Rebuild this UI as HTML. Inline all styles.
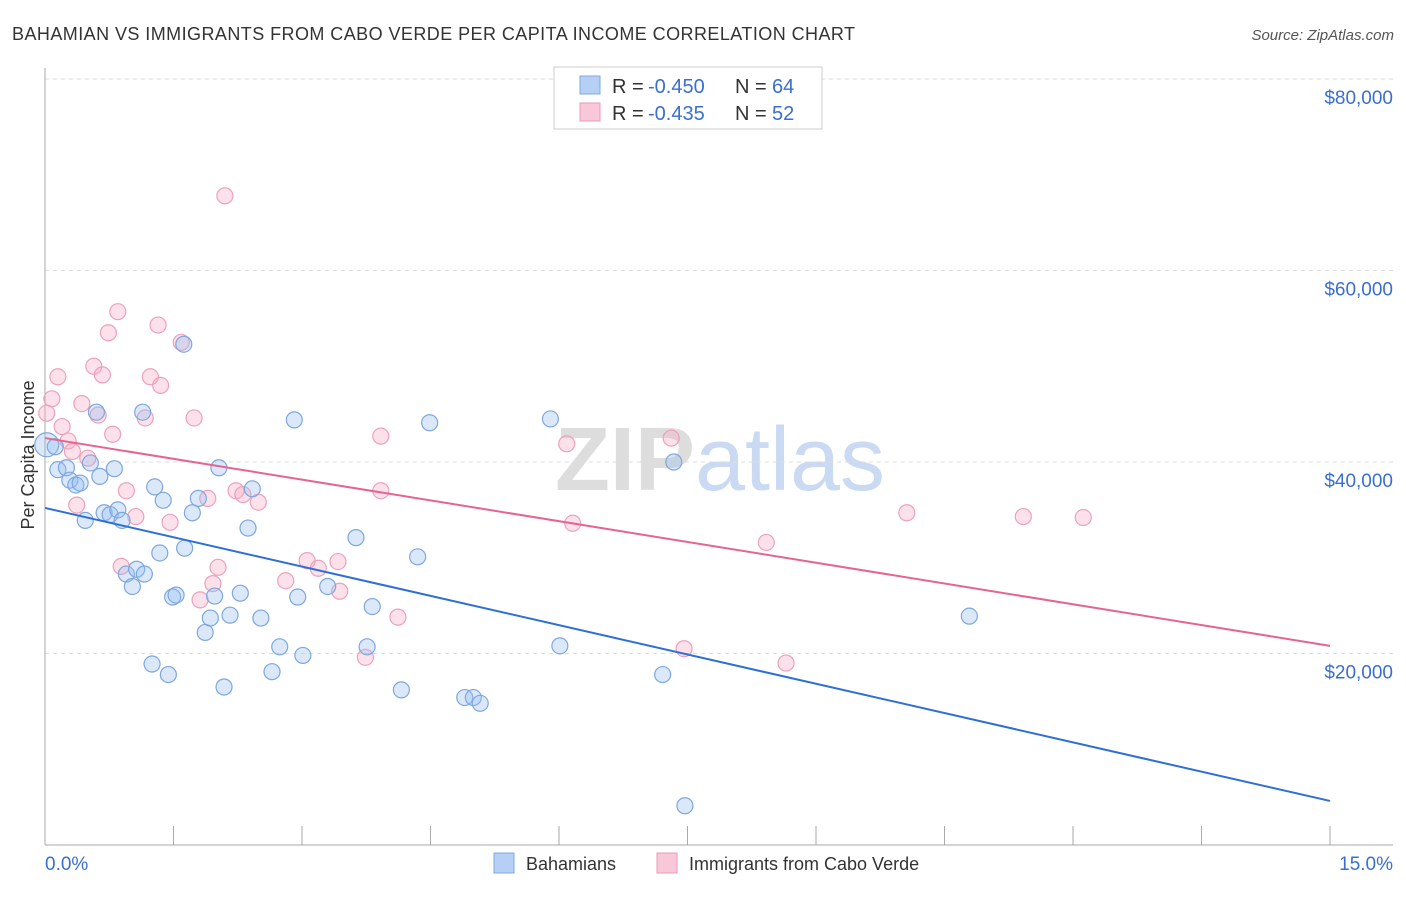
<!DOCTYPE html>
<html><head><meta charset="utf-8"><style>
body{margin:0;background:#fff;font-family:"Liberation Sans",sans-serif;}
svg text{font-family:"Liberation Sans",sans-serif;}
</style></head><body>
<svg id="chart" width="1406" height="892" xmlns="http://www.w3.org/2000/svg">
<text x="12" y="40" font-size="18" fill="#333" textLength="843">BAHAMIAN VS IMMIGRANTS FROM CABO VERDE PER CAPITA INCOME CORRELATION CHART</text>
<text x="1394" y="40" font-size="15" fill="#555" font-style="italic" text-anchor="end">Source: ZipAtlas.com</text>
<text x="720" y="490" font-size="90" fill="#ddd" text-anchor="middle" font-family="Liberation Serif" font-weight="bold">ZIP<tspan fill="#c9daf2" font-family="Liberation Sans" font-weight="normal">atlas</tspan></text>
<text transform="translate(34,455) rotate(-90)" font-size="18" fill="#333" text-anchor="middle">Per Capita Income</text>
<g id="grid"></g>
<g id="axes"></g>
<g id="marks"></g>
<g>
<rect x="554" y="67" width="268" height="62" fill="#fff" stroke="#ccc"/>
<rect x="580" y="76" width="20" height="18" fill="#b6d0f5" stroke="#7fa8e0"/>
<rect x="580" y="103" width="20" height="18" fill="#f9c8d8" stroke="#ec9ab5"/>
<text x="612" y="93" font-size="20" fill="#333">R =</text>
<text x="648" y="93" font-size="20" fill="#3a6fd0">-0.450</text>
<text x="735" y="93" font-size="20" fill="#333">N =</text>
<text x="772" y="93" font-size="20" fill="#3a6fd0">64</text>
<text x="612" y="120" font-size="20" fill="#333">R =</text>
<text x="648" y="120" font-size="20" fill="#3a6fd0">-0.435</text>
<text x="735" y="120" font-size="20" fill="#333">N =</text>
<text x="772" y="120" font-size="20" fill="#3a6fd0">52</text>
</g>
<g>
<rect x="494" y="853" width="20" height="20" fill="#b6d0f5" stroke="#7fa8e0"/>
<text x="526" y="870" font-size="18" fill="#333">Bahamians</text>
<rect x="657" y="853" width="20" height="20" fill="#f9c8d8" stroke="#ec9ab5"/>
<text x="689" y="870" font-size="18" fill="#333">Immigrants from Cabo Verde</text>
</g>
</svg>
<script>
const blueX=[0.02,0.12,0.15,0.25,0.29,0.36,0.41,0.47,0.53,0.60,0.64,0.69,0.76,0.81,0.85,0.90,0.95,1.02,1.07,1.16,1.14,1.25,1.28,1.34,1.38,1.44,1.49,1.53,1.63,1.62,1.72,1.79,1.87,1.93,1.98,2.03,2.09,2.16,2.28,2.37,2.42,2.52,2.65,2.74,2.91,2.95,3.01,3.30,3.63,3.76,3.82,4.16,4.35,4.49,4.90,5.00,5.08,5.90,6.01,7.21,7.34,7.47,10.79];
const blueY=[41.8,41.6,39.2,39.4,38.1,37.6,37.8,33.9,39.9,45.2,38.5,34.7,34.5,39.3,35.0,33.9,28.3,27.0,28.8,28.3,45.2,18.9,37.4,30.5,36.0,17.8,25.9,26.1,31.0,52.3,34.7,36.2,22.2,23.7,26.0,39.4,16.5,24.0,26.3,33.1,37.2,23.7,18.1,20.7,44.4,25.9,19.8,27.0,32.1,20.7,24.9,16.2,30.1,44.1,15.4,15.4,14.8,44.5,20.8,17.8,40.0,4.1,23.9];
const pinkX=[0.02,0.08,0.15,0.20,0.27,0.32,0.37,0.43,0.50,0.57,0.62,0.67,0.74,0.79,0.85,0.89,0.95,1.06,1.17,1.23,1.32,1.35,1.46,1.59,1.74,1.81,1.90,1.96,2.02,2.10,2.23,2.31,2.49,2.81,3.06,3.19,3.42,3.44,3.74,3.92,3.92,4.12,6.09,6.16,7.31,7.46,8.42,8.65,10.06,11.42,12.12];
const pinkY=[45.1,46.6,48.9,43.7,42.2,41.1,35.5,46.1,40.4,50.0,44.9,49.1,53.5,42.9,55.7,29.1,37.0,34.3,44.6,48.9,54.3,48.0,33.7,52.5,44.6,25.6,36.2,27.3,29.0,67.8,37.0,36.6,35.8,27.6,29.7,28.9,29.6,26.5,19.6,42.7,37.0,23.8,41.9,33.6,42.5,20.5,31.6,19.0,34.7,34.3,34.2];
const blueTrend=[35.2,4.6];
const pinkTrend=[42.5,20.8];
const trendX=[0,15];
const yTicks=[20,40,60,80];
const yTickLabels=["$20,000","$40,000","$60,000","$80,000"];
const xTicks=[0,1.5,3,4.5,6,7.5,9,10.5,12,13.5,15];

const NS="http://www.w3.org/2000/svg";
const sx=v=>45+v*(1330-45)/15;
const sy=v=>845-v*191.5/20;
function mk(p,t,a){const e=document.createElementNS(NS,t);for(const k in a)e.setAttribute(k,a[k]);p.appendChild(e);return e;}
const grid=document.getElementById('grid'),axes=document.getElementById('axes'),marks=document.getElementById('marks');
yTicks.forEach((v,i)=>{
 const l=mk(grid,'line',{x1:45,x2:1393,y1:sy(v),y2:sy(v),stroke:'#ddd','stroke-dasharray':'4,4'});
 
 
 const t=mk(axes,'text',{x:1393,y:sy(v)+25,'font-size':19,fill:'#3a6fd0','text-anchor':'end'});
 t.textContent=yTickLabels[i];
 
 
});
mk(grid,'line',{x1:45,x2:1393,y1:79,y2:79,stroke:'#ddd','stroke-dasharray':'4,4'});
mk(axes,'line',{x1:45,x2:45,y1:68,y2:845,stroke:'#aaa'});
mk(axes,'line',{x1:45,x2:1393,y1:845,y2:845,stroke:'#aaa'});
xTicks.forEach(v=>{
 const l=mk(axes,'line',{x1:sx(v),x2:sx(v),y1:826,y2:845,stroke:'#aaa'});
 
 
});
const xl=mk(axes,'text',{x:45,y:870,'font-size':19,fill:'#3a6fd0'});xl.textContent='0.0%';


const xr=mk(axes,'text',{x:1393,y:870,'font-size':19,fill:'#3a6fd0','text-anchor':'end'});xr.textContent='15.0%';


pinkX.forEach((x,i)=>{
 const c=mk(marks,'circle',{cx:sx(x),cy:sy(pinkY[i]),r:8,fill:'rgba(246,170,196,0.35)',stroke:'#eba2bb','stroke-width':1.2});
 
 
});
blueX.forEach((x,i)=>{
 const c=mk(marks,'circle',{cx:sx(x),cy:sy(blueY[i]),r:i===0?12:8,fill:'rgba(150,190,240,0.35)',stroke:'#7ea7de','stroke-width':1.2});
 
 
});
const bt=mk(marks,'line',{x1:sx(trendX[0]),y1:sy(blueTrend[0]),x2:sx(trendX[1]),y2:sy(blueTrend[1]),stroke:'#2e6fd6','stroke-width':2});


const pt=mk(marks,'line',{x1:sx(trendX[0]),y1:sy(pinkTrend[0]),x2:sx(trendX[1]),y2:sy(pinkTrend[1]),stroke:'#e4658f','stroke-width':2});


</script>
</body></html>
